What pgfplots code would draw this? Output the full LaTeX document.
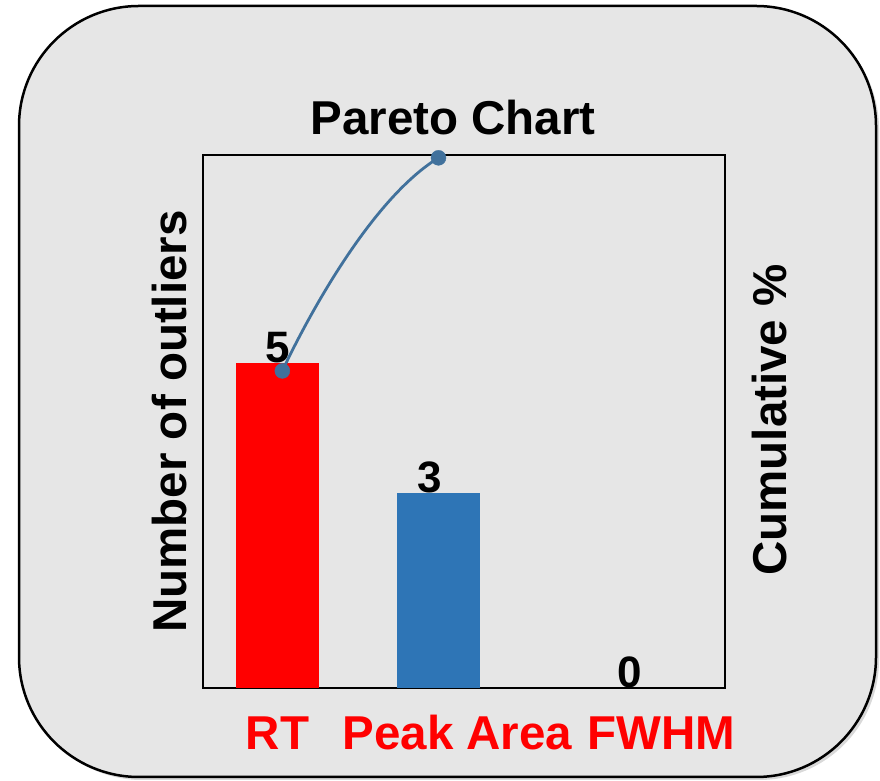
\documentclass[border=0pt]{standalone}
\usepackage{fontspec}
\setmainfont{Liberation Sans}
\usepackage{pgfplots}
\pgfplotsset{compat=1.18}
\usetikzlibrary{shadows}

\definecolor{barred}{HTML}{FF0000}
\definecolor{barblue}{HTML}{2E75B6}
\definecolor{cumline}{HTML}{41719C}
\definecolor{panel}{HTML}{E6E6E6}

\newcommand{\bigbold}{\fontsize{47.5}{56}\selectfont\bfseries}

\begin{document}
\begin{tikzpicture}[x=1pt,y=1pt]
\useasboundingbox (0,0) rectangle (880,781);
% rounded grey panel behind the chart
\draw[line width=2.5pt, fill=panel, rounded corners=120pt,
      drop shadow={shadow xshift=3pt, shadow yshift=-3pt, opacity=0.3}]
  (19,4) rectangle (876,775);

% bars: number of outliers per parameter
\begin{axis}[
  at={(203pt,93pt)}, anchor=south west,
  scale only axis, width=522pt, height=533pt,
  xmin=-0.463, xmax=2.78, ymin=0, ymax=8.2,
  axis line style={line width=1.8pt},
  ytick=\empty,
  xtick={0,1.118,2.385},
  xticklabels={RT,Peak Area,FWHM},
  major tick length=0pt,
  xticklabel style={anchor=base, yshift=-62pt, font=\bigbold, text=barred},
  ybar, bar width=83pt, bar shift=0pt,
  nodes near coords,
  nodes near coords style={anchor=base, font=\fontsize{44}{52}\selectfont\bfseries, text=black},
  /pgf/number format/assume math mode=true,
  ylabel={Number of outliers},
  ylabel style={at={(axis description cs:-0.0307,0.5)}, anchor=base, font=\bigbold},
  title={Pareto Chart},
  title style={at={(axis description cs:0.479,1.0281)}, anchor=base, font=\bigbold},
]
\addplot[fill=barred, draw=none] coordinates {(0,5)};
\addplot[fill=barblue, draw=none, every node near coord/.append style={xshift=-9pt}] coordinates {(1,3)};
\addplot[fill=none, draw=none] coordinates {(2.19,0)};
\end{axis}

% cumulative percentage line
\begin{axis}[
  at={(203pt,93pt)}, anchor=south west,
  scale only axis, width=522pt, height=533pt,
  xmin=-0.463, xmax=2.78, ymin=6.7, ymax=100.5,
  axis line style={draw=none},
  xtick=\empty, ytick=\empty,
  clip=false,
  ylabel={Cumulative \%},
  ylabel style={at={(axis description cs:1.117,0.503)}, anchor=base, font=\bigbold},
]
\begin{scope}
  \clip (axis cs:-0.463,6.7) rectangle (axis cs:1,110);
  \addplot[smooth, tension=0.85, cumline, line width=2.8pt] coordinates {(0.03,62.5) (1,100) (2.19,100)};
\end{scope}
\addplot[only marks, mark=*, mark size=7.5pt, cumline] coordinates {(0.03,62.5) (1,100)};
\end{axis}
\end{tikzpicture}
\end{document}
